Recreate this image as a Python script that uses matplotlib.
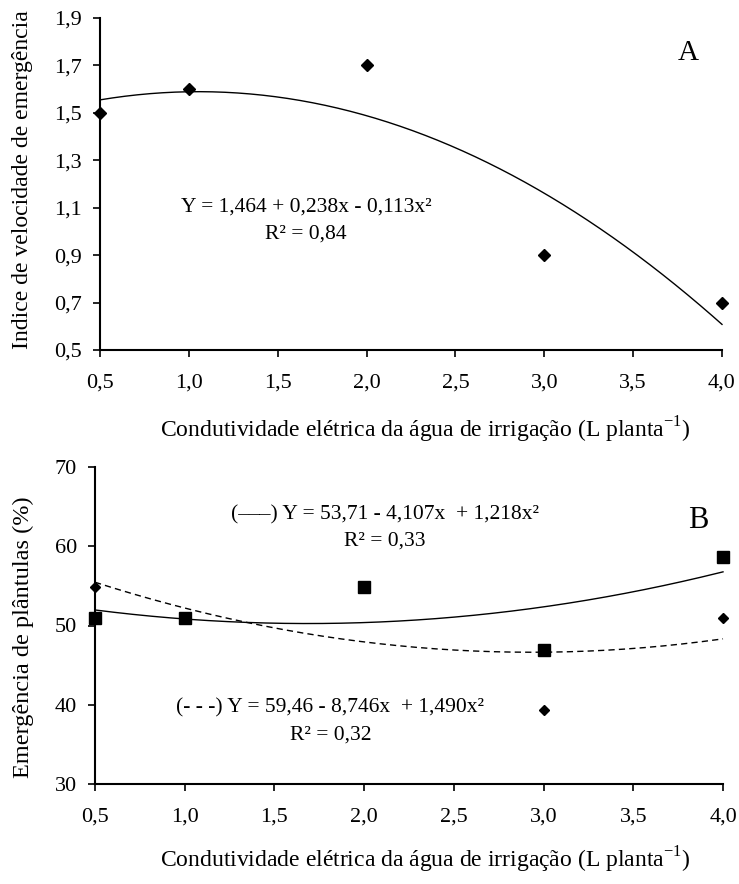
import matplotlib
matplotlib.use("Agg")
import matplotlib.pyplot as plt
import numpy as np
from matplotlib.ticker import FixedLocator, FuncFormatter

plt.rcParams['font.family'] = ['Liberation Serif', 'DejaVu Serif']
plt.rcParams['mathtext.fontset'] = 'custom'
plt.rcParams['mathtext.rm'] = 'Liberation Serif'

# ---- data ----
x_levels = [0.5, 1.0, 2.0, 3.0, 4.0]
ive_values = [1.5, 1.6, 1.7, 0.9, 0.7]
ive_coef = [1.464, 0.238, -0.113]

emerg_sq = [50.9, 50.9, 54.8, 46.9, 58.7]      # squares (solid fit)
emerg_dia = [54.9, 50.9, 54.8, 39.3, 50.9]     # diamonds (dashed fit)
sq_coef = [53.71, -4.107, 1.218]
dia_coef = [59.46, -8.746, 1.490]

x_ticks = [0.5, 1.0, 1.5, 2.0, 2.5, 3.0, 3.5, 4.0]
yA_ticks = [0.5, 0.7, 0.9, 1.1, 1.3, 1.5, 1.7, 1.9]
yB_ticks = [30, 40, 50, 60, 70]

eqA = "Y = 1,464 + 0,238x - 0,113x²"
r2A = "R² = 0,84"
eqB1 = "(–––) Y = 53,71 - 4,107x  + 1,218x²"
r2B1 = "R² = 0,33"
eqB2 = "(- - -) Y = 59,46 - 8,746x  + 1,490x²"
r2B2 = "R² = 0,32"
xlabel = "Condutividade elétrica da água de irrigação (L planta$^{\\mathregular{-1}}$)"
ylabelA = "Indice de velocidade de emergência"
ylabelB = "Emergência de plântulas (%)"

W, H = 739, 884
fig = plt.figure(figsize=(W / 100, H / 100), dpi=100)

def px_axes(l, t, r, b):
    return fig.add_axes([l / W, 1 - b / H, (r - l) / W, (b - t) / H])

def comma(v, pos=None):
    return f"{v:.1f}".replace(".", ",")

def style(ax):
    for s in ['top', 'right']:
        ax.spines[s].set_visible(False)
    for s in ['left', 'bottom']:
        ax.spines[s].set_linewidth(1.5)
    ax.tick_params(axis='both', direction='out', length=5, width=1.2,
                   labelsize=16, colors='black')
    ax.tick_params(axis='x', pad=12)
    ax.tick_params(axis='y', pad=8)

def poly(c, x):
    return c[0] + c[1] * x + c[2] * x ** 2

xs = np.linspace(0.5, 4.0, 200)
EQ_FS = 15.5

# ---- Panel A ----
axA = px_axes(100, 18, 722, 350)
style(axA)
axA.set_xlim(0.5, 4.0)
axA.set_ylim(0.5, 1.9)
axA.xaxis.set_major_locator(FixedLocator(x_ticks))
axA.yaxis.set_major_locator(FixedLocator(yA_ticks))
axA.xaxis.set_major_formatter(FuncFormatter(comma))
axA.yaxis.set_major_formatter(FuncFormatter(comma))
axA.plot(xs, poly(ive_coef, xs), color='black', lw=1.0, clip_on=False)
axA.plot(x_levels, ive_values, linestyle='none', marker='D', ms=6.5,
         color='black', clip_on=False, zorder=5)
axA.text(0.331, 0.432, eqA, transform=axA.transAxes, ha='center', va='center', fontsize=EQ_FS)
axA.text(0.331, 0.350, r2A, transform=axA.transAxes, ha='center', va='center', fontsize=EQ_FS)
axA.text(0.945, 0.895, "A", transform=axA.transAxes, ha='center', va='center', fontsize=21)

# ---- Panel B ----
axB = px_axes(95, 467, 723, 784)
style(axB)
axB.set_xlim(0.5, 4.0)
axB.set_ylim(30, 70)
axB.xaxis.set_major_locator(FixedLocator(x_ticks))
axB.yaxis.set_major_locator(FixedLocator(yB_ticks))
axB.xaxis.set_major_formatter(FuncFormatter(comma))
axB.plot(xs, poly(sq_coef, xs), color='black', lw=1.0, clip_on=False)
axB.plot(xs, poly(dia_coef, xs), color='black', lw=1.0, linestyle=(0, (4.5, 3)), clip_on=False)
axB.plot(x_levels, emerg_dia, linestyle='none', marker='D', ms=5.5,
         color='black', clip_on=False, zorder=5)
axB.plot(x_levels, emerg_sq, linestyle='none', marker='s', ms=8,
         color='black', clip_on=False, zorder=6)
axB.text(0.461, 0.85, eqB1, transform=axB.transAxes, ha='center', va='center', fontsize=EQ_FS)
axB.text(0.461, 0.765, r2B1, transform=axB.transAxes, ha='center', va='center', fontsize=EQ_FS)
axB.text(0.375, 0.24, eqB2, transform=axB.transAxes, ha='center', va='center', fontsize=EQ_FS)
axB.text(0.375, 0.155, r2B2, transform=axB.transAxes, ha='center', va='center', fontsize=EQ_FS)
axB.text(0.96, 0.83, "B", transform=axB.transAxes, ha='center', va='center', fontsize=22)

# ---- axis titles ----
fig.text(425 / W, 1 - 430 / H, xlabel, ha='center', va='center', fontsize=17)
fig.text(425 / W, 1 - 860 / H, xlabel, ha='center', va='center', fontsize=17)
fig.text(23 / W, 1 - 180 / H, ylabelA, ha='center', va='center', rotation=90, fontsize=17)
fig.text(23 / W, 1 - 637 / H, ylabelB, ha='center', va='center', rotation=90, fontsize=17.5)

fig.savefig("out.png", dpi=100)
